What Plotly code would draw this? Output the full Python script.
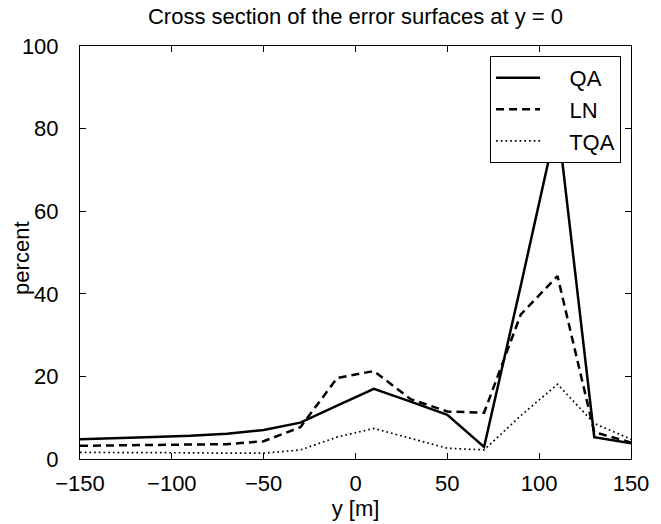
import plotly.graph_objects as go

y_pos = [-150, -130, -110, -90, -70, -50, -30, -10, 10, 30, 50, 70, 90, 110, 130, 150]
qa = [4.8, 5.0, 5.3, 5.6, 6.1, 7.0, 8.8, 12.9, 17.0, 13.9, 10.7, 2.9, 42.0, 82.0, 5.3, 3.8]
ln = [3.2, 3.3, 3.4, 3.5, 3.6, 4.3, 7.7, 19.6, 21.3, 14.5, 11.5, 11.2, 35.0, 44.3, 6.5, 4.0]
tqa = [1.6, 1.6, 1.5, 1.5, 1.4, 1.4, 2.2, 5.3, 7.4, 5.0, 2.6, 2.2, 10.5, 18.1, 8.6, 4.8]

x_ticks = [-150, -100, -50, 0, 50, 100, 150]
y_ticks = [0, 20, 40, 60, 80, 100]

FONT = "Liberation Sans, Arial, Helvetica, sans-serif"
FS = 22

fig = go.Figure()
fig.add_trace(go.Scatter(x=y_pos, y=qa, mode="lines", name="    QA",
                         line=dict(color="black", width=2.5, dash="solid")))
fig.add_trace(go.Scatter(x=y_pos, y=ln, mode="lines", name="    LN",
                         line=dict(color="black", width=2.5, dash="8px,5px")))
fig.add_trace(go.Scatter(x=y_pos, y=tqa, mode="lines", name="    TQA",
                         line=dict(color="black", width=1.7, dash="1.7px,3px")))

axis_common = dict(showgrid=False, zeroline=False, showline=True, linecolor="black",
                   linewidth=1, mirror="ticks", ticks="inside", ticklen=6,
                   tickcolor="black", tickwidth=1,
                   tickfont=dict(family=FONT, size=FS, color="black"))

fig.update_layout(
    width=661, height=524,
    margin=dict(l=80, r=25, t=46, b=55),
    paper_bgcolor="white", plot_bgcolor="white",
    font=dict(family=FONT, size=FS, color="black"),
    title=dict(text="Cross section of the error surfaces at y = 0",
               x=0.5, xref="paper", xanchor="center", y=0.968, yanchor="middle",
               font=dict(family=FONT, size=FS, color="black")),
    xaxis=dict(range=[-150, 150], tickvals=x_ticks,
               ticktext=[str(v).replace("-", "\u2212") for v in x_ticks],
               ticklabelstandoff=5,
               title=dict(text="y [m]", standoff=0,
                          font=dict(family=FONT, size=FS)),
               **axis_common),
    yaxis=dict(range=[0, 100], tickvals=y_ticks,
               ticklabelstandoff=16,
               **axis_common),
    legend=dict(x=0.982, y=0.976, xanchor="right", yanchor="top",
                bgcolor="white", bordercolor="black", borderwidth=1,
                font=dict(family=FONT, size=22, color="black"),
                tracegroupgap=0, itemwidth=44),
    showlegend=True,
    annotations=[dict(text="percent", textangle=-90, showarrow=False,
                      xref="paper", yref="paper", x=-0.106, y=0.486,
                      xanchor="center", yanchor="middle",
                      font=dict(family=FONT, size=FS, color="black"))],
)

fig.write_html("out.html")
